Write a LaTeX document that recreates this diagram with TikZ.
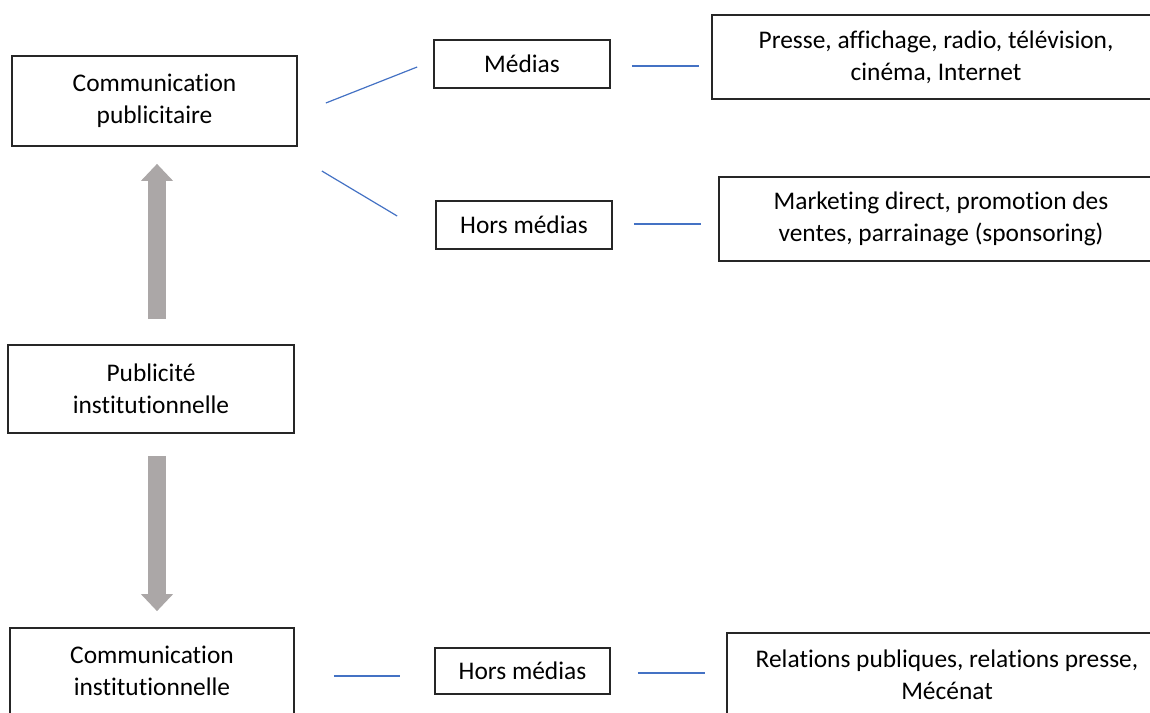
\documentclass[tikz,border=0pt]{standalone}
\usepackage{fontspec}
\setmainfont[Ligatures=NoCommon]{Carlito}
\usetikzlibrary{arrows.meta}
\definecolor{linkblue}{HTML}{4472C4}
\definecolor{arrowgray}{HTML}{ABA7A7}
\begin{document}
\begin{tikzpicture}[x=0.5pt,y=-0.5pt,
  box/.style={draw=black!85,line width=0.85pt,align=center,inner sep=0pt,
    font=\fontsize{12.7}{16}\selectfont},
  link/.style={draw=linkblue,line width=0.6pt},
  bigarrow/.style={draw=arrowgray,line width=9pt,
    -{Triangle[width=15.5pt,length=8.5pt]}}]
\useasboundingbox (0,0) rectangle (1150,712);

% left column
\node[box,minimum width=142.5pt,minimum height=45pt] (pub) at (154.5,101) {Communication\\publicitaire};
\node[box,minimum width=143pt,minimum height=44pt] (inst) at (151,389) {Publicité\\institutionnelle};
\node[box,minimum width=142pt,minimum height=43pt] (comi) at (152,671) {Communication\\institutionnelle};

% middle column
\node[box,minimum width=88pt,minimum height=24pt] (med) at (522,64) {Médias};
\node[box,minimum width=88pt,minimum height=24pt] (hm1) at (524,225) {Hors médias};
\node[box,minimum width=87.5pt,minimum height=23pt] (hm2) at (522.5,671) {Hors médias};

% right column (running off the right edge of the page)
\node[box,minimum width=224pt,minimum height=42pt] (pr) at (936,57) {Presse, affichage, radio, télévision,\\cinéma, Internet};
\node[box,minimum width=222pt,minimum height=42pt] (mk) at (941,219) {Marketing direct, promotion des\\ventes, parrainage (sponsoring)};
\node[box,minimum width=220pt,minimum height=42pt] (rp) at (947,675) {Relations publiques, relations presse,\\Mécénat};

% grey arrows
\draw[bigarrow] ([xshift=3pt,yshift=12.5pt]inst.north) -- ([xshift=1.25pt,yshift=-8.5pt]pub.south);
\draw[bigarrow] ([xshift=3pt,yshift=-11pt]inst.south) -- ([xshift=2.5pt,yshift=8pt]comi.north);

% blue links
\draw[link] ([xshift=14pt,yshift=-1pt]pub.east) -- ([xshift=-8pt,yshift=-1.5pt]med.west);
\draw[link] ([xshift=12pt,yshift=-35pt]pub.east) -- ([xshift=-19pt,yshift=4.5pt]hm1.west);
\draw[link] ([xshift=10.5pt,yshift=-1pt]med.east) -- ([xshift=-6pt,yshift=-4.5pt]pr.west);
\draw[link] ([xshift=10.5pt,yshift=0.5pt]hm1.east) -- ([xshift=-8.5pt,yshift=-2.5pt]mk.west);
\draw[link] ([xshift=19.5pt,yshift=-2.5pt]comi.east) -- ([xshift=-17pt,yshift=-2.5pt]hm2.west);
\draw[link] ([xshift=13.5pt,yshift=-1pt]hm2.east) -- ([xshift=-10.5pt,yshift=1pt]rp.west);
\end{tikzpicture}
\end{document}
